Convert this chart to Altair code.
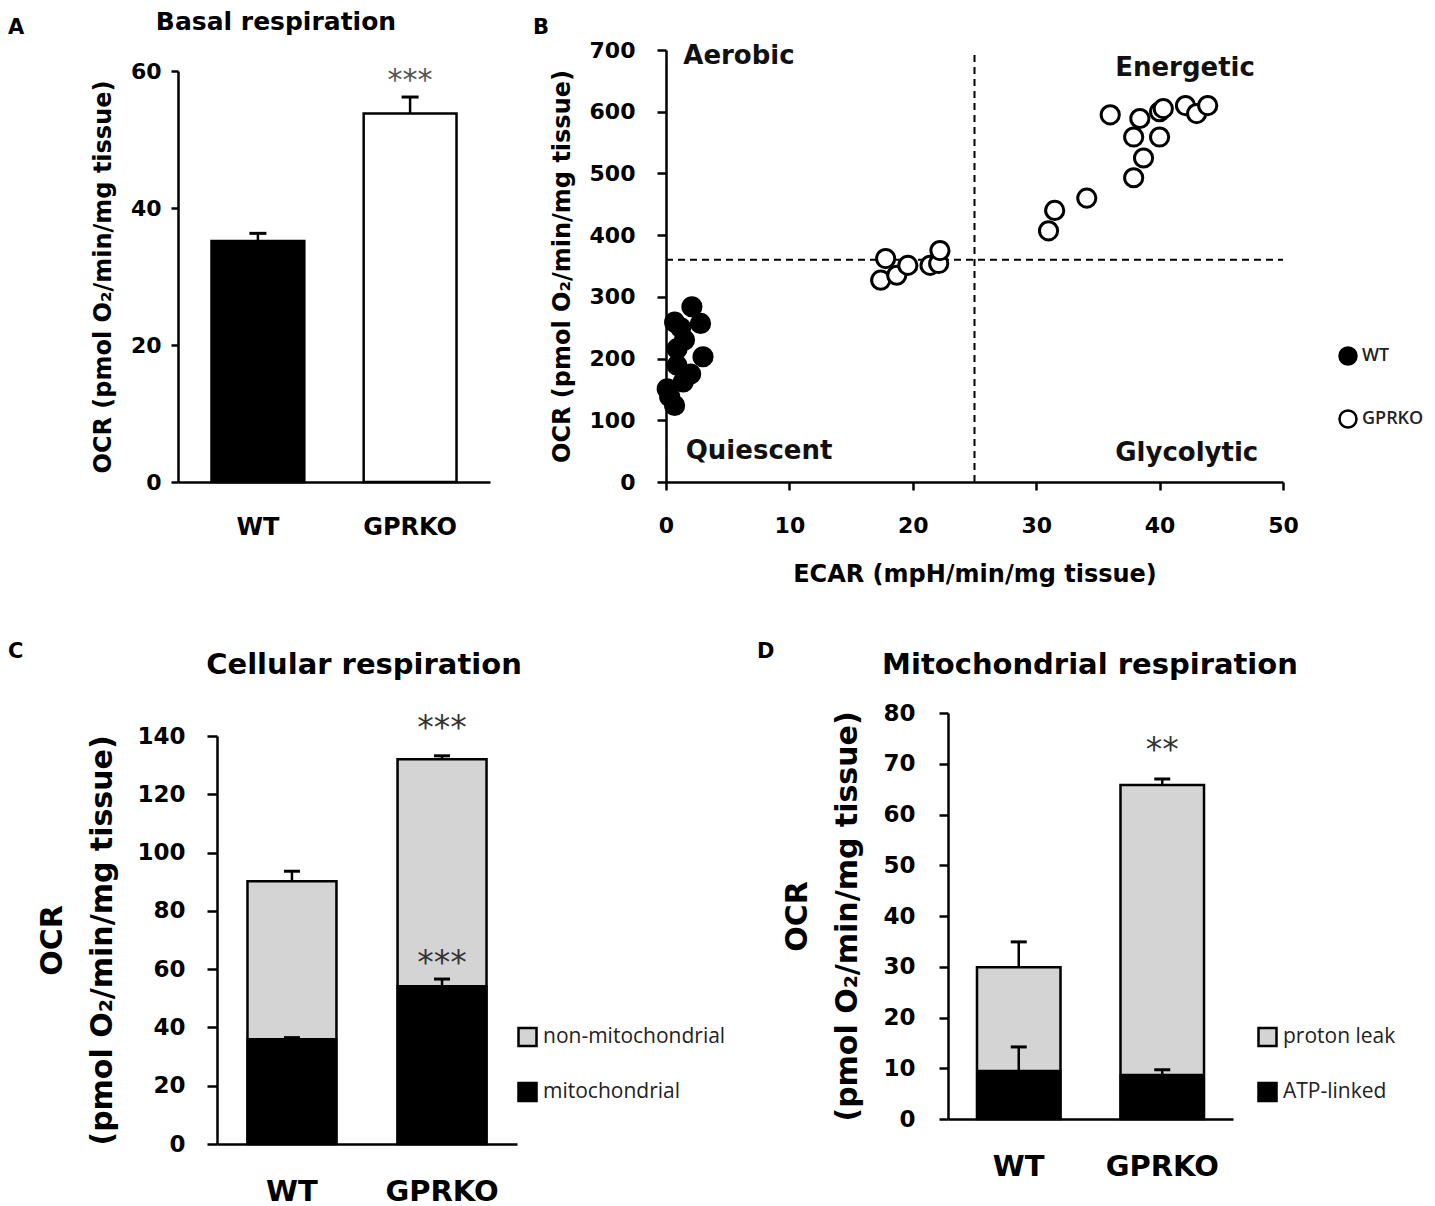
import altair as alt
import pandas as pd

FONT = "DejaVu Sans"
LFONT = "Open Sans"

groups = ["WT", "GPRKO"]

# ---- Panel A: basal respiration
basal_mean = [35.2, 53.8]
basal_err = [1.1, 2.4]
basal_star_group = ["GPRKO"]
basal_star_y = [58.6]
basal_star_text = ["***"]

# ---- Panel B: energy map
wt_ecar = [2.1, 2.8, 0.7, 3.0, 0.9, 0.9, 1.4, 0.1, 0.7, 0.3, 2.0, 1.5, 1.2]
wt_ocr = [284, 257, 259, 203, 216, 189, 162, 151, 124, 138, 175, 230, 250]
ko_ecar = [17.8, 17.4, 18.7, 19.6, 21.4, 22.1, 22.2, 31.0, 31.5, 34.1, 37.9,
           38.7, 37.9, 40.0, 36.0, 38.4, 40.0, 40.3, 42.1, 43.0, 43.9]
ko_ocr = [362, 327, 335, 351, 351, 354, 375, 407, 440, 460, 493,
          525, 559, 559, 595, 589, 600, 605, 610, 597, 610]
ecar_split = [25]
ocr_split = [360]
quad_labels = ["Aerobic", "Energetic", "Quiescent", "Glycolytic"]
quad_x = [1.4, 36.4, 1.6, 36.4]
quad_y = [677, 658, 37, 34]

# ---- Panel C: cellular respiration
cell_parts = ["non-mitochondrial", "mitochondrial"]
cell_total = [90.2, 132.0]
cell_total_err = [3.4, 1.2]
cell_mito = [36.0, 54.2]
cell_mito_err = [0.5, 2.4]
cell_star_group = ["GPRKO", "GPRKO"]
cell_star_y = [142.3, 61.8]
cell_star_text = ["***", "***"]

# ---- Panel D: mitochondrial respiration
mito_parts = ["proton leak", "ATP-linked"]
mito_total = [29.9, 65.8]
mito_total_err = [5.0, 1.2]
atp_linked = [9.5, 8.7]
atp_err = [4.7, 1.0]
mito_star_group = ["GPRKO"]
mito_star_y = [72.6]
mito_star_text = ["**"]

OCR_TITLE = "OCR (pmol O\u2082/min/mg tissue)"


def note(text, x, y, align="left", baseline="alphabetic", size=21, color="black",
         weight="bold", font=FONT, opacity=1.0):
    return alt.Chart(pd.DataFrame({"t": [text]})).mark_text(
        align=align, baseline=baseline, fontSize=size, font=font,
        fontWeight=weight, color=color, opacity=opacity
    ).encode(text="t:N", x=alt.value(x), y=alt.value(y))


def spacer(x, y, align="left", baseline="top"):
    return note(".", x, y, align=align, baseline=baseline, size=10, opacity=0)


# ================= Panel A =================
dfA = pd.DataFrame({"group": groups, "mean": basal_mean, "err": basal_err})
dfA["top"] = dfA["mean"] + dfA["err"]
xA = alt.X("group:N", sort=groups,
           scale=alt.Scale(paddingInner=0.39, paddingOuter=0.22, range=[-39, 273]),
           axis=alt.Axis(title=None, labelAngle=0, ticks=False, tickSize=0,
                         labelPadding=33, labelFontSize=24, domainWidth=2.5))
axA = alt.Axis(title=OCR_TITLE, values=[0, 20, 40, 60], tickSize=7, tickWidth=2.5,
               domainWidth=2.5, labelFontSize=22, labelPadding=10, offset=39,
               titleFontSize=24, titlePadding=15)
scA = alt.Scale(domain=[0, 60], nice=False, range=[432, 21])


def yA(f):
    return alt.Y(f, scale=scA, axis=axA)


barsA = alt.Chart(dfA).mark_bar(stroke="black", strokeWidth=2.5).encode(
    x=xA, y=yA("mean:Q"),
    fill=alt.Fill("group:N", scale=alt.Scale(domain=groups, range=["black", "white"]),
                  legend=None))
errA = alt.Chart(dfA).mark_rule(strokeWidth=2.5, color="black").encode(
    x=xA, y=yA("mean:Q"), y2="top:Q")
capA = alt.Chart(dfA).mark_tick(thickness=3, size=17, color="black", opacity=1).encode(
    x=xA, y=yA("top:Q"))
starA = alt.Chart(pd.DataFrame({"group": basal_star_group, "sy": basal_star_y,
                                "st": basal_star_text})).mark_text(
    font=FONT, fontSize=30, color="#555", baseline="middle").encode(
    x=xA, y=yA("sy:Q"), text="st:N")

panelA = alt.layer(
    barsA, errA, capA, starA,
    note("A", -209, -16),
    note("Basal respiration", 59, -20, align="center", size=25),
    spacer(0, -42), spacer(0, 577, baseline="bottom"),
).properties(width=273, height=432)

# ================= Panel B =================
dfB = pd.concat([
    pd.DataFrame({"ecar": wt_ecar, "ocr": wt_ocr, "genotype": "WT"}),
    pd.DataFrame({"ecar": ko_ecar, "ocr": ko_ocr, "genotype": "GPRKO"}),
], ignore_index=True)
axBx = alt.Axis(title="ECAR (mpH/min/mg tissue)", values=[0, 10, 20, 30, 40, 50],
                tickSize=8, tickWidth=2.5, domainWidth=2.5, labelFontSize=22,
                labelPadding=25, titleFontSize=24, titlePadding=26, labelFlush=False)
axBy = alt.Axis(title=OCR_TITLE, values=list(range(0, 701, 100)), tickSize=9,
                tickWidth=2.5, domainWidth=2.5, labelFontSize=22, labelPadding=22,
                titleFontSize=24, titlePadding=15)
scBx = alt.Scale(domain=[0, 50], nice=False)
scBy = alt.Scale(domain=[0, 700], nice=False)


def xB(f):
    return alt.X(f, scale=scBx, axis=axBx)


def yB(f):
    return alt.Y(f, scale=scBy, axis=axBy)


vline = alt.Chart(pd.DataFrame({"x": ecar_split, "y0": [0], "y1": [700]})).mark_rule(
    strokeDash=[7, 5], strokeWidth=2, color="black").encode(
    x=xB("x:Q"), y=yB("y0:Q"), y2="y1:Q")
hline = alt.Chart(pd.DataFrame({"y": ocr_split, "x0": [0], "x1": [50]})).mark_rule(
    strokeDash=[7, 5], strokeWidth=2, color="black").encode(
    y=yB("y:Q"), x=xB("x0:Q"), x2="x1:Q")
pts = alt.Chart(dfB).mark_point(shape="circle", filled=True, size=330, stroke="black",
                                strokeWidth=3, opacity=1).encode(
    x=xB("ecar:Q"), y=yB("ocr:Q"),
    fill=alt.Fill("genotype:N",
                  scale=alt.Scale(domain=["WT", "GPRKO"], range=["black", "white"]),
                  legend=alt.Legend(title=None, orient="none", legendX=672, legendY=296,
                                    symbolType="circle", symbolSize=289,
                                    symbolStrokeColor="black", symbolStrokeWidth=2.5,
                                    labelFont=LFONT, labelFontSize=18,
                                    labelFontWeight=600, labelColor="#222",
                                    rowPadding=35, labelOffset=4, labelLimit=300)))
quad = alt.Chart(pd.DataFrame({"qx": quad_x, "qy": quad_y, "label": quad_labels})).mark_text(
    align="left", baseline="alphabetic", font=FONT, fontWeight="bold", fontSize=26,
    color="#111").encode(x=xB("qx:Q"), y=yB("qy:Q"), text="label:N")

panelB = alt.layer(
    vline, hline, pts, quad,
    note("B", -133, -16),
    spacer(0, -42), spacer(0, 577, baseline="bottom"),
).properties(width=617, height=432)


# ================= Panels C and D =================
def stacked_panel(total, total_err, inner, inner_err, parts, star_g, star_y, star_t,
                  ymax, ystep, w, h, yrange, pad_in, pad_out, tick_size, label_pad,
                  title_pad, legx, legy, letter, letter_xy, title, title_xy, top_y,
                  right_x=None):
    df_tot = pd.DataFrame({"group": groups, "val": total, "part": parts[0]})
    df_in = pd.DataFrame({"group": groups, "val": inner, "part": parts[1]})
    df_err = pd.DataFrame({"group": groups, "tot": total,
                           "tot_top": [a + b for a, b in zip(total, total_err)],
                           "inn": inner,
                           "inn_top": [a + b for a, b in zip(inner, inner_err)]})
    xs = alt.X("group:N", sort=groups,
               scale=alt.Scale(paddingInner=pad_in, paddingOuter=pad_out),
               axis=alt.Axis(title=None, labelAngle=0, ticks=False, tickSize=0,
                             labelPadding=33, labelFontSize=29, domainWidth=2.5))
    ax = alt.Axis(title=["OCR", "(pmol O\u2082/min/mg tissue)"],
                  values=list(range(0, ymax + 1, ystep)), tickSize=tick_size,
                  tickWidth=2.5, domainWidth=2.5, labelFontSize=23,
                  labelPadding=label_pad, titleFontSize=30, titleLineHeight=50,
                  titlePadding=title_pad)
    sc = alt.Scale(domain=[0, ymax], nice=False, range=yrange)

    def ys(f):
        return alt.Y(f, scale=sc, axis=ax)

    fill = alt.Fill("part:N", scale=alt.Scale(domain=parts, range=["#d4d4d4", "black"]),
                    legend=alt.Legend(title=None, orient="none", legendX=legx, legendY=legy,
                                      symbolType="square", symbolSize=324,
                                      symbolStrokeColor="black", symbolStrokeWidth=2.5,
                                      labelFont=LFONT, labelFontSize=21,
                                      labelColor="#222", rowPadding=26, labelOffset=5,
                                      labelLimit=400))
    bar_tot = alt.Chart(df_tot).mark_bar(stroke="black", strokeWidth=2.5).encode(
        x=xs, y=ys("val:Q"), fill=fill)
    bar_in = alt.Chart(df_in).mark_bar(stroke="black", strokeWidth=2).encode(
        x=xs, y=ys("val:Q"), fill=fill)
    e1 = alt.Chart(df_err).mark_rule(strokeWidth=2.5, color="black").encode(
        x=xs, y=ys("tot:Q"), y2="tot_top:Q")
    c1 = alt.Chart(df_err).mark_tick(thickness=3, size=16, color="black", opacity=1).encode(
        x=xs, y=ys("tot_top:Q"))
    e2 = alt.Chart(df_err).mark_rule(strokeWidth=2.5, color="black").encode(
        x=xs, y=ys("inn:Q"), y2="inn_top:Q")
    c2 = alt.Chart(df_err).mark_tick(thickness=3, size=16, color="black", opacity=1).encode(
        x=xs, y=ys("inn_top:Q"))
    stars = alt.Chart(pd.DataFrame({"group": star_g, "sy": star_y, "st": star_t})).mark_text(
        font=FONT, fontSize=33, color="#333", baseline="middle").encode(
        x=xs, y=ys("sy:Q"), text="st:N")
    layers = [bar_tot, bar_in, e1, c1, e2, c2, stars,
              note(letter, letter_xy[0], letter_xy[1]),
              note(title, title_xy[0], title_xy[1], align="center", size=29),
              spacer(0, top_y)]
    if right_x is not None:
        layers.append(spacer(right_x, 200, align="right", baseline="middle"))
    return alt.layer(*layers).properties(width=w, height=h)


panelC = stacked_panel(cell_total, cell_total_err, cell_mito, cell_mito_err, cell_parts,
                       cell_star_group, cell_star_y, cell_star_text,
                       140, 20, 300, 431, [431, 23], 0.407, 0.203, 10, 22, 19,
                       300, 313.5, "C", (-209, -55), "Cellular respiration", (147, -39),
                       -79, right_x=533)
panelD = stacked_panel(mito_total, mito_total_err, atp_linked, atp_err, mito_parts,
                       mito_star_group, mito_star_y, mito_star_text,
                       80, 10, 285, 406, [406, 0], 0.418, 0.202, 9, 24, 20,
                       309, 313.5, "D", (-191, -55), "Mitochondrial respiration", (142, -39),
                       -79)

row1 = alt.hconcat(panelA, panelB, spacing=4).resolve_scale(
    fill="independent").resolve_legend(fill="independent")
row2 = alt.hconcat(panelC, panelD, spacing=7).resolve_scale(
    fill="independent").resolve_legend(fill="independent")

chart = alt.vconcat(row1, row2, spacing=7).properties(padding=0).resolve_scale(
    fill="independent"
).resolve_legend(fill="independent").configure_view(
    stroke=None
).configure_axis(
    grid=False, domainColor="black", tickColor="black", labelColor="black",
    titleColor="black", labelFont=FONT, titleFont=FONT, labelFontWeight="bold",
    titleFontWeight="bold"
)

chart.save("out.html", embed_options={"renderer": "svg", "actions": False})
